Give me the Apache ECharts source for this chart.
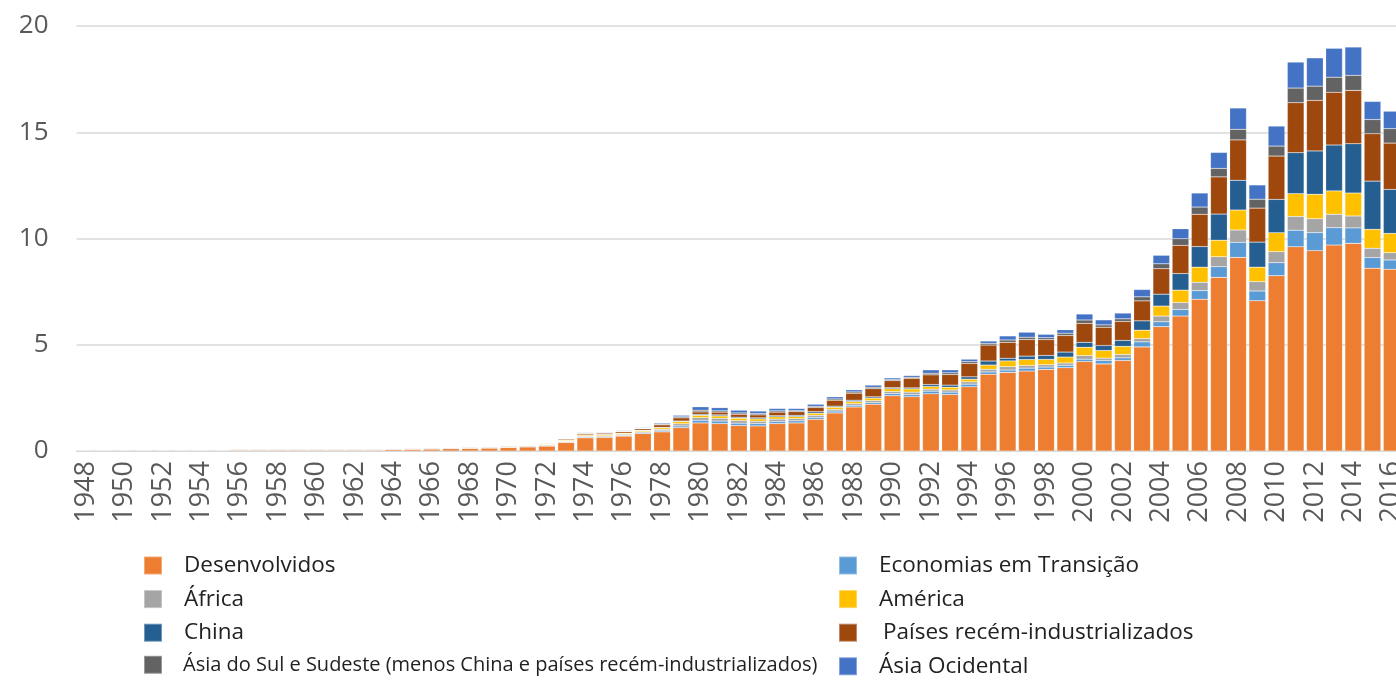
<!DOCTYPE html>
<html>
<head>
<meta charset="utf-8">
<style>
    html, body { margin: 0; padding: 0; background: #fff; }
    #chart { width: 1396px; height: 680px; }
</style>
<script src="https://cdn.jsdelivr.net/npm/echarts@6/dist/echarts.min.js"></script>
</head>
<body>
<div id="chart"></div>
<script>
// anos 1948-2016
var years = ['1948','1949','1950','1951','1952','1953','1954','1955','1956','1957','1958','1959','1960','1961','1962','1963',
    '1964','1965','1966','1967','1968','1969','1970','1971','1972','1973','1974','1975','1976','1977','1978','1979',
    '1980','1981','1982','1983','1984','1985','1986','1987','1988','1989','1990','1991','1992','1993','1994','1995',
    '1996','1997','1998','1999','2000','2001','2002','2003','2004','2005','2006','2007','2008','2009','2010','2011',
    '2012','2013','2014','2015','2016'];

var yTicks = [0, 5, 10, 15, 20];

var desenvolvidos = [0.02,0.02,0.02,0.02,0.02,0.02,0.02,0.02, 0.04,0.04,0.04,0.04,0.04,0.04,0.04,0.04,
    0.06,0.075,0.09,0.105,0.12,0.135,0.165,0.19,0.23,
    0.4,0.62,0.64,0.7,0.82,0.9,1.1,1.32,1.29,1.2,
    1.18,1.29,1.32,1.49,1.79,2.07,2.2,2.6,2.55,2.69,
    2.66,3.02,3.61,3.7,3.76,3.84,3.92,4.21,4.1,4.26,
    4.9,5.85,6.35,7.14,8.17,9.11,7.07,8.25,9.61,9.43,
    9.69,9.77,8.6,8.55];
var transicao = [0.01,0.01,0.01,0.01,0.01,0.01,0.01,0.01, 0.012,0.012,0.012,0.012,0.012,0.012,0.012,0.012,
    0.013,0.013,0.014,0.014,0.015,0.015,0.017,0.018,0.02,
    0.03,0.04,0.04,0.04,0.04,0.05,0.08,0.125,0.12,0.11,
    0.11,0.1,0.1,0.09,0.09,0.08,0.08,0.1,0.1,0.125,
    0.11,0.125,0.11,0.11,0.14,0.11,0.11,0.11,0.16,0.125,
    0.235,0.23,0.31,0.41,0.5,0.71,0.46,0.61,0.78,0.85,
    0.82,0.73,0.5,0.44];
var africa = [0.03,0.03,0.03,0.03,0.03,0.03,0.03,0.03, 0.035,0.035,0.035,0.035,0.035,0.035,0.035,0.035,
    0.035,0.035,0.035,0.036,0.036,0.037,0.038,0.038,0.04,
    0.03,0.04,0.04,0.04,0.05,0.07,0.1,0.125,0.13,0.12,
    0.11,0.11,0.1,0.1,0.08,0.08,0.09,0.1,0.12,0.094,
    0.1,0.11,0.125,0.16,0.125,0.11,0.11,0.17,0.11,0.16,
    0.16,0.27,0.33,0.39,0.47,0.58,0.44,0.52,0.65,0.65,
    0.63,0.56,0.44,0.34];
var america = [0.012,0.012,0.012,0.012,0.012,0.012,0.012,0.012, 0.015,0.015,0.015,0.015,0.015,0.015,0.015,0.015,
    0.018,0.02,0.021,0.022,0.024,0.025,0.027,0.029,0.032,
    0.04,0.05,0.05,0.05,0.05,0.07,0.1,0.11,0.11,0.11,
    0.11,0.11,0.1,0.1,0.1,0.1,0.12,0.13,0.15,0.125,
    0.13,0.125,0.2,0.27,0.28,0.25,0.28,0.39,0.36,0.38,
    0.39,0.47,0.58,0.71,0.78,0.94,0.68,0.89,1.07,1.15,
    1.1,1.08,0.89,0.91];
var china = [0,0,0,0,0,0,0,0, 0.002,0.002,0.002,0.002,0.002,0.002,0.002,0.002,
    0.002,0.002,0.002,0.002,0.002,0.002,0.002,0.002,0.005,
    0.01,0.01,0.01,0.01,0.015,0.02,0.03,0.05,0.05,0.05,
    0.05,0.05,0.06,0.07,0.05,0.06,0.06,0.05,0.05,0.094,
    0.1,0.11,0.19,0.125,0.16,0.19,0.235,0.235,0.235,0.28,
    0.44,0.56,0.78,0.97,1.23,1.4,1.18,1.57,1.93,2.04,
    2.16,2.32,2.27,2.07];
var recemIndustrializados = [0.006,0.006,0.006,0.006,0.006,0.006,0.006,0.006, 0.01,0.01,0.01,0.01,0.01,0.01,0.01,0.01,
    0.012,0.014,0.016,0.018,0.019,0.02,0.023,0.025,0.03,
    0.05,0.06,0.06,0.07,0.07,0.12,0.15,0.11,0.13,0.14,
    0.14,0.17,0.17,0.2,0.28,0.33,0.38,0.33,0.45,0.455,
    0.5,0.63,0.75,0.75,0.78,0.74,0.78,0.89,0.86,0.89,
    0.94,1.2,1.33,1.52,1.75,1.9,1.6,2.04,2.35,2.38,
    2.48,2.51,2.23,2.18];
var asiaSul = [0.006,0.006,0.006,0.006,0.006,0.006,0.006,0.006, 0.008,0.008,0.008,0.008,0.008,0.008,0.008,0.008,
    0.01,0.01,0.011,0.012,0.012,0.013,0.014,0.014,0.013,
    0.02,0.02,0.02,0.02,0.025,0.04,0.05,0.08,0.06,0.06,
    0.06,0.06,0.05,0.05,0.06,0.06,0.07,0.05,0.05,0.078,
    0.08,0.09,0.08,0.11,0.11,0.09,0.11,0.16,0.11,0.125,
    0.19,0.23,0.31,0.34,0.4,0.5,0.42,0.47,0.69,0.67,
    0.71,0.71,0.67,0.68];
var asiaOcidental = [0.006,0.006,0.006,0.006,0.006,0.006,0.006,0.006, 0.008,0.008,0.008,0.008,0.008,0.008,0.008,0.008,
    0.01,0.011,0.011,0.011,0.012,0.013,0.014,0.014,0.01,
    0.02,0.03,0.03,0.03,0.03,0.05,0.07,0.16,0.15,0.13,
    0.12,0.11,0.1,0.1,0.1,0.1,0.1,0.08,0.08,0.157,
    0.14,0.11,0.11,0.19,0.235,0.16,0.16,0.28,0.235,0.27,
    0.345,0.4,0.47,0.66,0.75,1.0,0.67,0.94,1.22,1.33,
    1.36,1.33,0.85,0.82];

var FONT = '"Open Sans", "Noto Sans", sans-serif';

function makeSeries(name, data, color) {
    return {
        name: name,
        type: 'bar',
        stack: 'total',
        barCategoryGap: '13%',
        data: data,
        itemStyle: {
            color: color,
            borderColor: 'rgba(255,255,255,0.35)',
            borderWidth: 0.5
        }
    };
}

var chart = echarts.init(document.getElementById('chart'));

var legendText = { fontFamily: FONT, fontSize: 22.5, color: '#222', padding: [0, 0, 0, 17] };

chart.setOption({
    animation: false,
    textStyle: { fontFamily: FONT },
    // a área do gráfico passa um pouco da borda direita, como no original
    grid: { left: 76.5, right: -5.3, top: 26, bottom: 229, containLabel: false, outerBoundsMode: 'none' },
    legend: [
        {
            orient: 'vertical',
            left: 143,
            top: 554,
            height: 126,
            padding: 0,
            itemWidth: 18,
            itemHeight: 18,
            itemGap: 10.6,
            icon: 'rect',
            textStyle: legendText,
            data: [
                'Desenvolvidos',
                'África',
                'China',
                { name: 'Ásia do Sul e Sudeste (menos China e países recém-industrializados)',
                  textStyle: { fontSize: 20, padding: [0, 0, 0, 16] } }
            ]
        },
        {
            orient: 'vertical',
            left: 838,
            top: 554,
            height: 126,
            padding: 0,
            itemWidth: 18,
            itemHeight: 18,
            itemGap: 10.6,
            icon: 'rect',
            textStyle: legendText,
            data: [
                'Economias em Transição',
                'América',
                { name: 'Países recém-industrializados', textStyle: { padding: [0, 0, 0, 21] } },
                'Ásia Ocidental'
            ]
        }
    ],
    xAxis: {
        type: 'category',
        data: years,
        axisLine: { lineStyle: { color: '#d9d9d9', width: 1 } },
        axisTick: { show: false },
        axisLabel: {
            interval: 1,
            rotate: 90,
            margin: 10,
            fontFamily: FONT,
            fontSize: 27,
            color: '#595959'
        }
    },
    yAxis: {
        type: 'value',
        min: yTicks[0],
        max: yTicks[yTicks.length - 1],
        interval: 5,
        axisLine: { show: false },
        axisTick: { show: false },
        splitLine: { lineStyle: { color: '#d9d9d9', width: 1.5 } },
        axisLabel: {
            margin: 28,
            fontFamily: FONT,
            fontSize: 26,
            color: '#595959'
        }
    },
    series: [
        makeSeries('Desenvolvidos', desenvolvidos, '#ED7D31'),
        makeSeries('Economias em Transição', transicao, '#5B9BD5'),
        makeSeries('África', africa, '#A5A5A5'),
        makeSeries('América', america, '#FFC000'),
        makeSeries('China', china, '#255E91'),
        makeSeries('Países recém-industrializados', recemIndustrializados, '#9E480E'),
        makeSeries('Ásia do Sul e Sudeste (menos China e países recém-industrializados)', asiaSul, '#636363'),
        makeSeries('Ásia Ocidental', asiaOcidental, '#4472C4')
    ]
});

window.addEventListener('resize', function () {
    chart.resize();
});
</script>
</body>
</html>
